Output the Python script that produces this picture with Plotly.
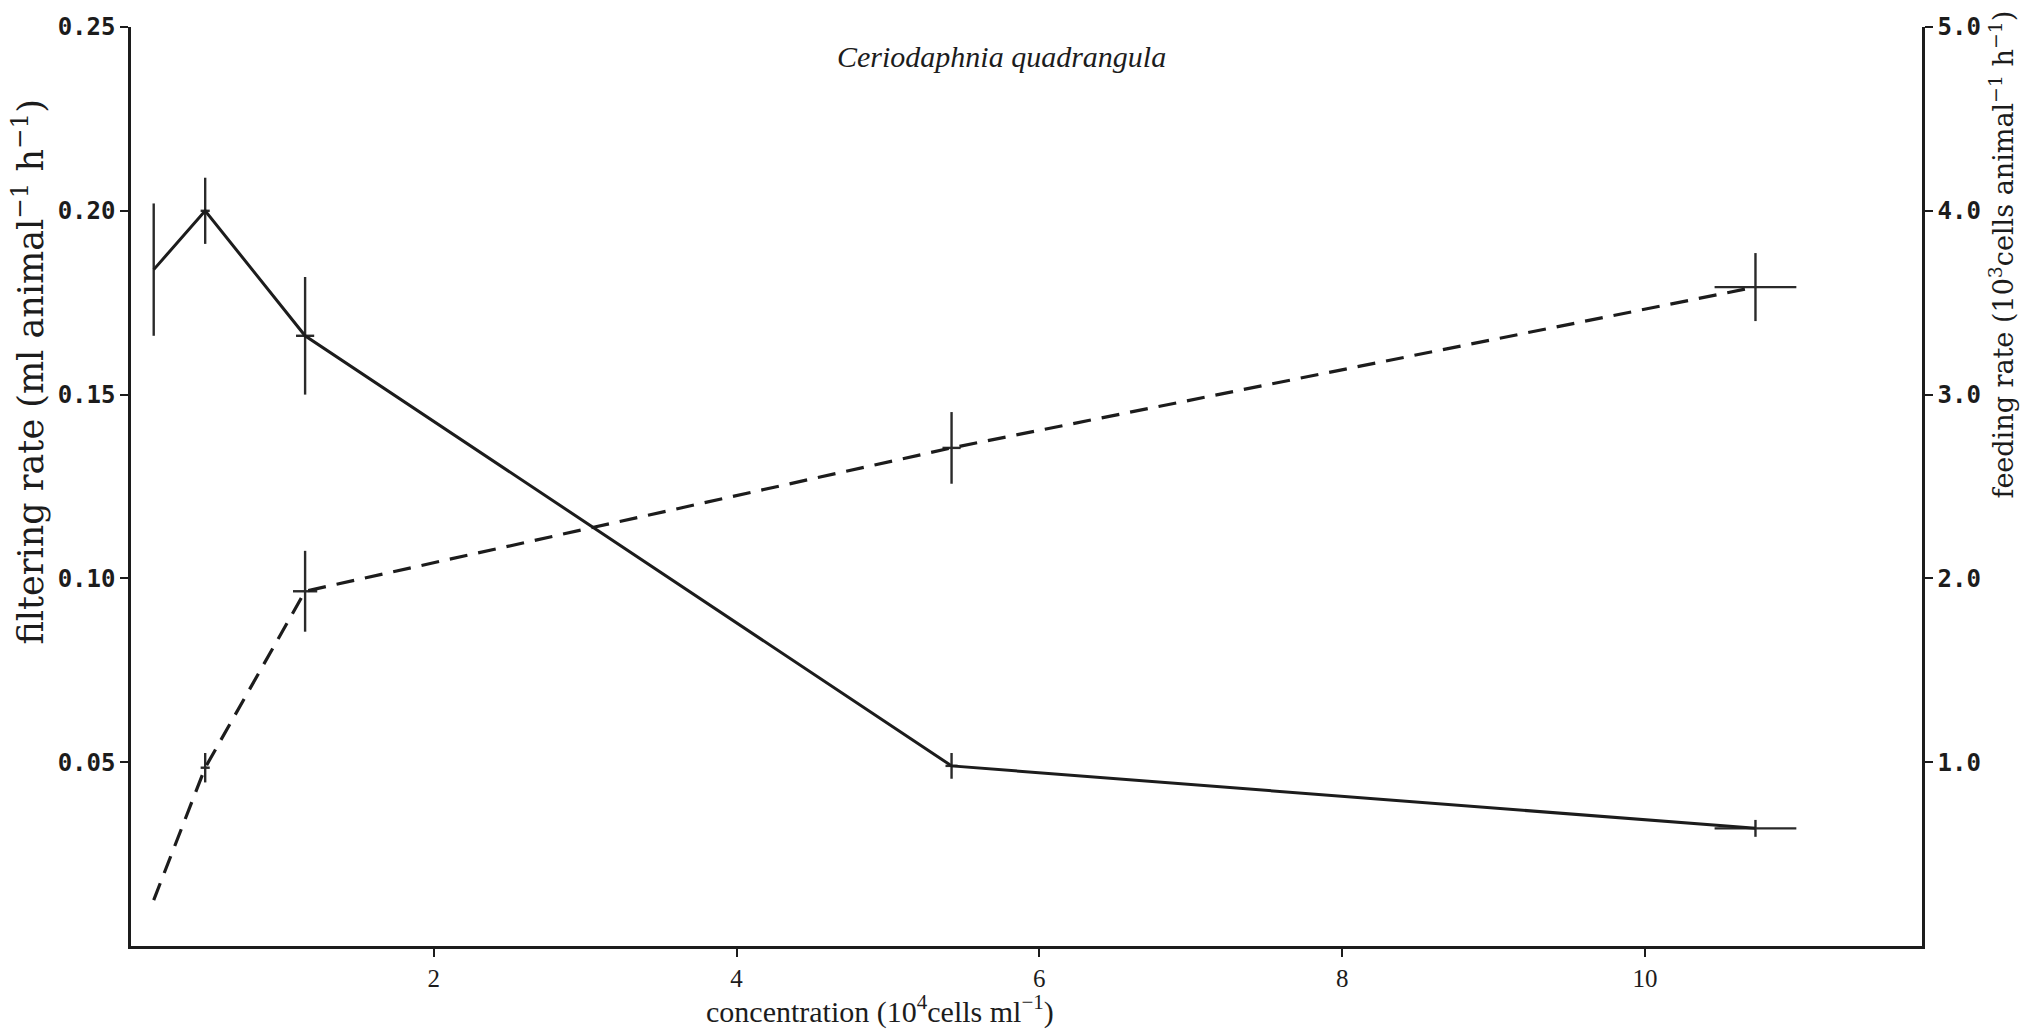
import plotly.graph_objects as go

# Algal concentration (10^4 cells per ml)
concentration = [0.15, 0.49, 1.15, 5.42, 10.73]

# Filtering rate (ml per animal per hour) with spread
filtering_rate = [0.184, 0.200, 0.166, 0.049, 0.032]
filtering_err = [0.018, 0.009, 0.016, 0.0035, 0.0023]
filtering_xerr = [0.0, 0.03, 0.06, 0.04, 0.27]

# Feeding rate (10^3 cells per animal per hour) with spread
feeding_rate = [0.25, 0.97, 1.93, 2.71, 3.585]
feeding_err = [0.0, 0.08, 0.22, 0.195, 0.185]
feeding_xerr = [0.0, 0.03, 0.08, 0.06, 0.27]

x_ticks = [2, 4, 6, 8, 10]
left_ticks = [0.05, 0.10, 0.15, 0.20, 0.25]
right_ticks = [1.0, 2.0, 3.0, 4.0, 5.0]

INK = "#1c1c1c"
MONO = "DejaVu Sans Mono, Liberation Mono, monospace"
SERIF = "Liberation Serif, DejaVu Serif, serif"
WIDE_SERIF = "DejaVu Serif, Liberation Serif, serif"

fig = go.Figure()

fig.add_trace(go.Scatter(
    x=concentration, y=filtering_rate, mode="lines",
    line=dict(color=INK, width=3),
    error_y=dict(type="data", array=filtering_err, color="#2a2a2a", thickness=2.4, width=0),
    error_x=dict(type="data", array=filtering_xerr, color="#2a2a2a", thickness=2.4, width=0),
    showlegend=False, yaxis="y",
))

fig.add_trace(go.Scatter(
    x=concentration, y=feeding_rate, mode="lines",
    line=dict(color=INK, width=3.2, dash="18px,11px"),
    error_y=dict(type="data", array=feeding_err, color="#2a2a2a", thickness=2.4, width=0),
    error_x=dict(type="data", array=feeding_xerr, color="#2a2a2a", thickness=2.4, width=0),
    showlegend=False, yaxis="y2",
))

fig.update_layout(
    width=2043, height=1029,
    margin=dict(l=131, r=121, t=27, b=83),
    paper_bgcolor="white", plot_bgcolor="white",
    xaxis=dict(
        range=[0, 11.83], tickvals=x_ticks, ticktext=[str(v) for v in x_ticks],
        showgrid=False, zeroline=False, showline=True, linecolor=INK, linewidth=2.5,
        ticks="outside", ticklen=8, tickwidth=2, tickcolor=INK,
        tickfont=dict(family=SERIF, size=25, color=INK),
    ),
    yaxis=dict(
        range=[0, 0.25], tickvals=left_ticks, ticktext=[f"{v:.2f}" for v in left_ticks],
        showgrid=False, zeroline=False, showline=True, linecolor=INK, linewidth=2.5,
        ticks="outside", ticklen=8, tickwidth=2, tickcolor=INK,
        tickfont=dict(family=MONO, size=24, color=INK, weight="bold"),
    ),
    yaxis2=dict(
        range=[0, 5.0], tickvals=right_ticks, ticktext=[f"{v:.1f}" for v in right_ticks],
        overlaying="y", side="right",
        showgrid=False, zeroline=False, showline=True, linecolor=INK, linewidth=2.5,
        ticks="outside", ticklen=8, tickwidth=2, tickcolor=INK,
        tickfont=dict(family=MONO, size=24, color=INK, weight="bold"),
    ),
    annotations=[
        dict(text="<i>Ceriodaphnia quadrangula</i>", xref="paper", yref="paper",
             x=0.486, y=0.968, showarrow=False, xanchor="center", yanchor="middle",
             font=dict(family=SERIF, size=30, color=INK)),
        dict(text="filtering rate (ml animal<sup>−1</sup> h<sup>−1</sup>)",
             xref="paper", yref="paper", x=-0.0575, y=0.624, textangle=-90,
             showarrow=False, xanchor="center", yanchor="middle",
             font=dict(family=WIDE_SERIF, size=35, color=INK)),
        dict(text="feeding rate (10<sup>3</sup>cells animal<sup>−1</sup> h<sup>−1</sup>)",
             xref="paper", yref="paper", x=1.0445, y=0.752, textangle=-90,
             showarrow=False, xanchor="center", yanchor="middle",
             font=dict(family=WIDE_SERIF, size=27, color=INK)),
        dict(text="concentration (10<sup>4</sup>cells ml<sup>−1</sup>)",
             xref="paper", yref="paper", x=0.418, y=-0.069,
             showarrow=False, xanchor="center", yanchor="middle",
             font=dict(family=SERIF, size=30, color=INK)),
    ],
)

fig.write_html("out.html")
